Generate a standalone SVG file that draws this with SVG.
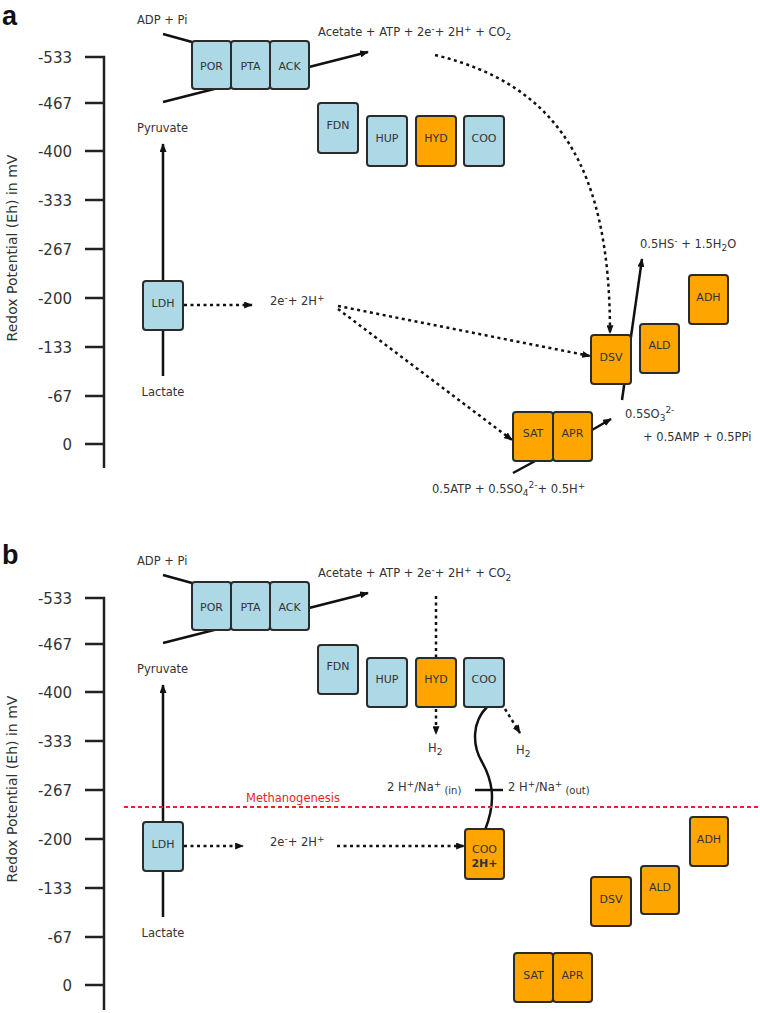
<svg xmlns="http://www.w3.org/2000/svg" width="760" height="1013" viewBox="0 0 760 1013">
<style>
text{font-family:"DejaVu Sans","Liberation Sans",sans-serif;fill:#333;}
.t{font-size:11.5px;}
.ax{font-size:15px;text-anchor:end;}
.yl{font-size:14px;text-anchor:middle;}
.pl{font-family:"Liberation Sans",Arial,sans-serif;font-size:27px;font-weight:bold;fill:#111;}
.bl{fill:#add8e6;stroke:#2b2b2b;stroke-width:2;}
.or{fill:#ffa500;stroke:#2b2b2b;stroke-width:2;}
.lb{font-size:11px;text-anchor:middle;}
.axis{fill:none;stroke:#222;stroke-width:2.5;}
.sl{fill:none;stroke:#111;stroke-width:2.5;}
.dl{fill:none;stroke:#111;stroke-width:2.5;stroke-dasharray:3 3.5;}
.red{fill:none;stroke:#e8242b;stroke-width:2;stroke-dasharray:4 3;}
.sp{font-size:9px;}
</style>
<defs>
<marker id="ah" viewBox="0 0 10 8" refX="9" refY="4" markerWidth="9" markerHeight="7" markerUnits="userSpaceOnUse" orient="auto">
<path d="M0,0 L10,4 L0,8 z" fill="#111"/>
</marker>
</defs>

<!-- Panel labels -->
<text class="pl" x="2" y="25">a</text>
<text class="pl" x="2" y="564">b</text>

<!-- Axes panel a -->
<g id="axis-a">
<path class="axis" d="M85,57 H104 V468"/>
<path class="axis" d="M85,103 H104 M85,151 H104 M85,200 H104 M85,249 H104 M85,298 H104 M85,347 H104 M85,396 H104 M85,444 H104"/>
<text class="ax" x="72" y="63">-533</text>
<text class="ax" x="72" y="109">-467</text>
<text class="ax" x="72" y="157">-400</text>
<text class="ax" x="72" y="206">-333</text>
<text class="ax" x="72" y="255">-267</text>
<text class="ax" x="72" y="304">-200</text>
<text class="ax" x="72" y="353">-133</text>
<text class="ax" x="72" y="402">-67</text>
<text class="ax" x="72" y="450">0</text>
<text class="yl" transform="translate(17,248) rotate(-90)">Redox Potential (Eh) in mV</text>
</g>

<!-- Axes panel b -->
<g id="axis-b" transform="translate(0,541)">
<path class="axis" d="M85,57 H104 V469"/>
<path class="axis" d="M85,103 H104 M85,151 H104 M85,200 H104 M85,249 H104 M85,298 H104 M85,347 H104 M85,396 H104 M85,444 H104"/>
<text class="ax" x="72" y="63">-533</text>
<text class="ax" x="72" y="109">-467</text>
<text class="ax" x="72" y="157">-400</text>
<text class="ax" x="72" y="206">-333</text>
<text class="ax" x="72" y="255">-267</text>
<text class="ax" x="72" y="304">-200</text>
<text class="ax" x="72" y="353">-133</text>
<text class="ax" x="72" y="402">-67</text>
<text class="ax" x="72" y="450">0</text>
<text class="yl" transform="translate(17,248) rotate(-90)">Redox Potential (Eh) in mV</text>
</g>

<!-- Connectors -->
<g id="connectors">
<!-- panel a -->
<path class="sl" d="M163,34 L192,42"/>
<path class="sl" d="M163,102 L218,88"/>
<path class="sl" d="M309,67 L368,52" marker-end="url(#ah)"/>
<path class="sl" d="M163,281 V144" marker-end="url(#ah)"/>
<path class="sl" d="M163,330 V376"/>
<path class="dl" d="M184,305 H252" marker-end="url(#ah)"/>
<path class="dl" d="M338,306 L590,356" marker-end="url(#ah)"/>
<path class="dl" d="M338,309 L512,440" marker-end="url(#ah)"/>
<path class="dl" d="M435,55 C560,85 610,170 610,333" marker-end="url(#ah)"/>
<path class="sl" d="M622,400 L642,259" marker-end="url(#ah)"/>
<path class="sl" d="M592,430 L611,419" marker-end="url(#ah)"/>
<path class="sl" d="M513,473 L537,460"/>
<!-- panel b -->
<path class="sl" d="M163,575 L192,583"/>
<path class="sl" d="M163,643 L218,629"/>
<path class="sl" d="M309,608 L368,593" marker-end="url(#ah)"/>
<path class="sl" d="M163,822 V685" marker-end="url(#ah)"/>
<path class="sl" d="M163,871 V917"/>
<path class="dl" d="M184,846 H243" marker-end="url(#ah)"/>
<path class="dl" d="M337,846 H464" marker-end="url(#ah)"/>
<path class="dl" d="M436,596 V657"/>
<path class="dl" d="M436,709 V734" marker-end="url(#ah)"/>
<path class="dl" d="M505,709 L520,733" marker-end="url(#ah)"/>
<path class="sl" d="M487,707 C472,722 472,745 482,762 C492,780 497,800 485,830"/>
<path class="sl" d="M475,790 H503"/>
<path class="red" d="M124,807 H760"/>
</g>

<!-- Panel a nodes -->
<g id="a-POR"><rect class="bl" x="192" y="41" width="39" height="48" rx="3"/><text class="lb" x="211.5" y="70">POR</text></g>
<g id="a-PTA"><rect class="bl" x="231" y="41" width="39" height="48" rx="3"/><text class="lb" x="250.5" y="70">PTA</text></g>
<g id="a-ACK"><rect class="bl" x="270" y="41" width="39" height="48" rx="3"/><text class="lb" x="289.5" y="70">ACK</text></g>
<g id="a-FDN"><rect class="bl" x="318" y="103" width="40" height="50" rx="3"/><text class="lb" x="338" y="129">FDN</text></g>
<g id="a-HUP"><rect class="bl" x="367" y="116" width="40" height="50" rx="3"/><text class="lb" x="387" y="142">HUP</text></g>
<g id="a-HYD"><rect class="or" x="416" y="116" width="40" height="50" rx="3"/><text class="lb" x="436" y="142">HYD</text></g>
<g id="a-COO"><rect class="bl" x="464" y="116" width="40" height="50" rx="3"/><text class="lb" x="484" y="142">COO</text></g>
<g id="a-LDH"><rect class="bl" x="143" y="281" width="40" height="49" rx="3"/><text class="lb" x="163" y="307">LDH</text></g>
<g id="a-DSV"><rect class="or" x="591" y="335" width="40" height="49" rx="3"/><text class="lb" x="611" y="361">DSV</text></g>
<g id="a-ALD"><rect class="or" x="640" y="324" width="39" height="49" rx="3"/><text class="lb" x="659.5" y="349">ALD</text></g>
<g id="a-ADH"><rect class="or" x="689" y="275" width="39" height="49" rx="3"/><text class="lb" x="708.5" y="301">ADH</text></g>
<g id="a-SAT"><rect class="or" x="513" y="412" width="40" height="49" rx="3"/><text class="lb" x="533" y="437">SAT</text></g>
<g id="a-APR"><rect class="or" x="553" y="412" width="39" height="49" rx="3"/><text class="lb" x="572.5" y="437">APR</text></g>

<!-- Panel a labels -->
<g id="a-labels">
<text class="t" x="137" y="24">ADP + Pi</text>
<text class="t" x="318" y="36">Acetate + ATP + 2e<tspan class="sp" dy="-4">-</tspan><tspan dy="4">+ 2H</tspan><tspan class="sp" dy="-4">+</tspan><tspan dy="4"> + CO</tspan><tspan class="sp" dy="4">2</tspan></text>
<text class="t" x="137" y="132">Pyruvate</text>
<text class="t" x="163" y="396" text-anchor="middle">Lactate</text>
<text class="t" x="270" y="305">2e<tspan class="sp" dy="-4">-</tspan><tspan dy="4">+ 2H</tspan><tspan class="sp" dy="-4">+</tspan></text>
<text class="t" x="640" y="248">0.5HS<tspan class="sp" dy="-4">-</tspan><tspan dy="4"> + 1.5H</tspan><tspan class="sp" dy="3">2</tspan><tspan dy="-3">O</tspan></text>
<text class="t" x="625" y="418">0.5SO<tspan class="sp" dy="3">3</tspan><tspan class="sp" dy="-8">2-</tspan></text>
<text class="t" x="643" y="441">+ 0.5AMP + 0.5PPi</text>
<text class="t" x="432" y="493">0.5ATP + 0.5SO<tspan class="sp" dy="3">4</tspan><tspan class="sp" dy="-8">2-</tspan><tspan dy="5">+ 0.5H</tspan><tspan class="sp" dy="-4">+</tspan></text>
</g>

<!-- Panel b nodes -->
<g id="b-POR"><rect class="bl" x="192" y="582" width="39" height="48" rx="3"/><text class="lb" x="211.5" y="611">POR</text></g>
<g id="b-PTA"><rect class="bl" x="231" y="582" width="39" height="48" rx="3"/><text class="lb" x="250.5" y="611">PTA</text></g>
<g id="b-ACK"><rect class="bl" x="270" y="582" width="39" height="48" rx="3"/><text class="lb" x="289.5" y="611">ACK</text></g>
<g id="b-FDN"><rect class="bl" x="318" y="645" width="40" height="49" rx="3"/><text class="lb" x="338" y="670">FDN</text></g>
<g id="b-HUP"><rect class="bl" x="367" y="658" width="40" height="49" rx="3"/><text class="lb" x="387" y="683">HUP</text></g>
<g id="b-HYD"><rect class="or" x="416" y="658" width="40" height="49" rx="3"/><text class="lb" x="436" y="683">HYD</text></g>
<g id="b-COO"><rect class="bl" x="464" y="658" width="40" height="49" rx="3"/><text class="lb" x="484" y="683">COO</text></g>
<g id="b-LDH"><rect class="bl" x="143" y="822" width="40" height="49" rx="3"/><text class="lb" x="163" y="848">LDH</text></g>
<g id="b-COO2H"><rect class="or" x="465" y="829" width="39" height="50" rx="3"/><text class="lb" x="484.5" y="853">COO</text><text class="lb" x="484.5" y="867" font-weight="bold" fill="#111">2H+</text></g>
<g id="b-DSV"><rect class="or" x="591" y="877" width="40" height="49" rx="3"/><text class="lb" x="611" y="903">DSV</text></g>
<g id="b-ALD"><rect class="or" x="641" y="866" width="38" height="48" rx="3"/><text class="lb" x="660" y="891">ALD</text></g>
<g id="b-ADH"><rect class="or" x="690" y="817" width="38" height="49" rx="3"/><text class="lb" x="709" y="843">ADH</text></g>
<g id="b-SAT"><rect class="or" x="514" y="953" width="39" height="49" rx="3"/><text class="lb" x="533.5" y="979">SAT</text></g>
<g id="b-APR"><rect class="or" x="553" y="953" width="39" height="49" rx="3"/><text class="lb" x="572.5" y="979">APR</text></g>

<!-- Panel b labels -->
<g id="b-labels">
<text class="t" x="137" y="565">ADP + Pi</text>
<text class="t" x="318" y="577">Acetate + ATP + 2e<tspan class="sp" dy="-4">-</tspan><tspan dy="4">+ 2H</tspan><tspan class="sp" dy="-4">+</tspan><tspan dy="4"> + CO</tspan><tspan class="sp" dy="4">2</tspan></text>
<text class="t" x="137" y="673">Pyruvate</text>
<text class="t" x="163" y="937" text-anchor="middle">Lactate</text>
<text class="t" x="270" y="846">2e<tspan class="sp" dy="-4">-</tspan><tspan dy="4">+ 2H</tspan><tspan class="sp" dy="-4">+</tspan></text>
<text class="t" x="428" y="752">H<tspan class="sp" dy="3">2</tspan></text>
<text class="t" x="516" y="754">H<tspan class="sp" dy="3">2</tspan></text>
<text class="t" x="387" y="791">2 H<tspan class="sp" dy="-4">+</tspan><tspan dy="4">/Na</tspan><tspan class="sp" dy="-4">+</tspan><tspan font-size="10" dy="7"> (in)</tspan></text>
<text class="t" x="508" y="791">2 H<tspan class="sp" dy="-4">+</tspan><tspan dy="4">/Na</tspan><tspan class="sp" dy="-4">+</tspan><tspan font-size="10" dy="7"> (out)</tspan></text>
<text class="t" x="293" y="802" text-anchor="middle" style="fill:#e8242b">Methanogenesis</text>
</g>
</svg>
